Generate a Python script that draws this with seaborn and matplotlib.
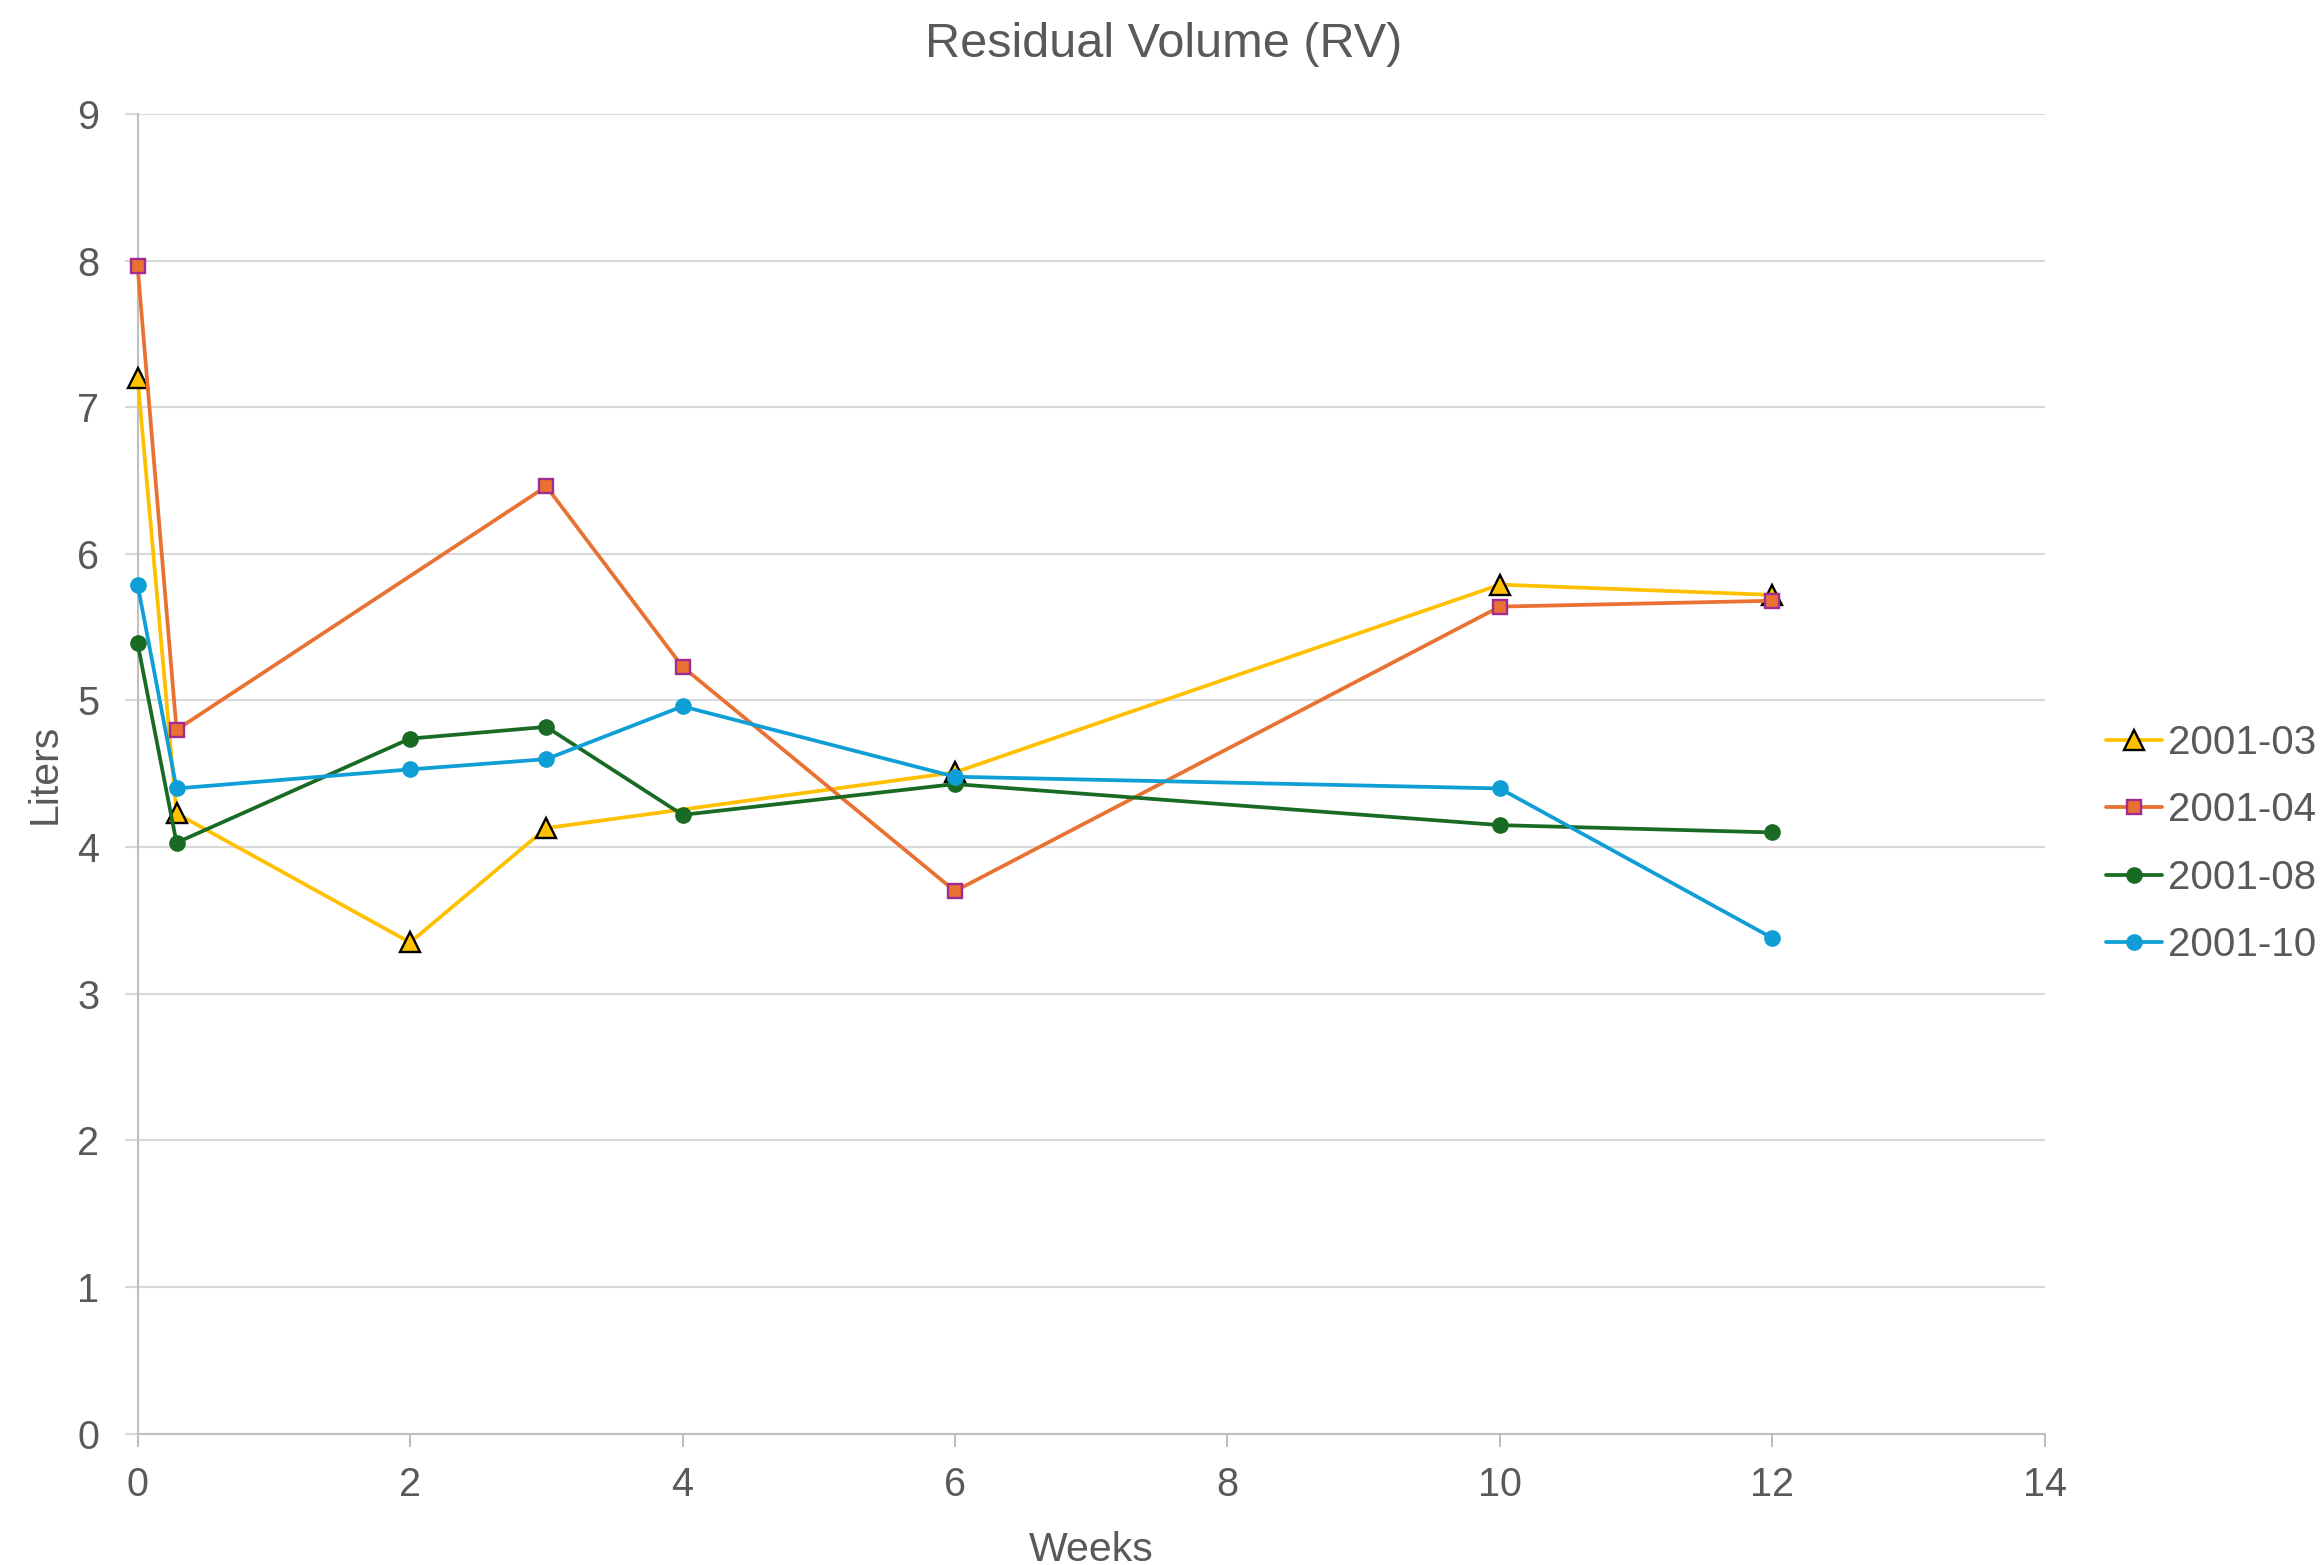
import matplotlib
matplotlib.use("Agg")
import matplotlib.pyplot as plt
import seaborn as sns
import pandas as pd

# Measurement weeks (second visit was 2 days after baseline)
weeks = [0, 2 / 7, 2, 3, 4, 6, 10, 12]

# Residual volume in liters per patient; None where no measurement was taken
rv_2001_03 = [7.20, 4.23, 3.35, 4.13, None, 4.51, 5.79, 5.72]
rv_2001_04 = [7.96, 4.80, None, 6.46, 5.23, 3.70, 5.64, 5.68]
rv_2001_08 = [5.39, 4.03, 4.74, 4.82, 4.22, 4.43, 4.15, 4.10]
rv_2001_10 = [5.79, 4.40, 4.53, 4.60, 4.96, 4.48, 4.40, 3.38]

series_names = ["2001-03", "2001-04", "2001-08", "2001-10"]
series_values = [rv_2001_03, rv_2001_04, rv_2001_08, rv_2001_10]

x_ticks = [0, 2, 4, 6, 8, 10, 12, 14]
y_ticks = [0, 1, 2, 3, 4, 5, 6, 7, 8, 9]

rows = []
for name, vals in zip(series_names, series_values):
    for w, v in zip(weeks, vals):
        if v is not None:
            rows.append({"Weeks": w, "Liters": v, "Patient": name})
df = pd.DataFrame(rows)

styles = {
    "2001-03": dict(color="#FFC000", marker="^", ms=14.5, mfc="#FFC000", mec="black", mew=1.7),
    "2001-04": dict(color="#E97132", marker="s", ms=10.5, mfc="#E97132", mec="#A02B93", mew=1.7),
    "2001-08": dict(color="#196B24", marker="o", ms=12, mfc="#196B24", mec="#196B24", mew=0),
    "2001-10": dict(color="#0F9ED5", marker="o", ms=12, mfc="#0F9ED5", mec="#0F9ED5", mew=0),
}

sns.set_theme(style="white")
plt.rcParams["font.family"] = ["Liberation Sans", "DejaVu Sans"]
text_color = "#595959"

W, H = 2320, 1565
fig = plt.figure(figsize=(W / 100, H / 100), dpi=100)
left, right, top, bottom = 137.6, 2044.8, 113.9, 1433.7
ax = fig.add_axes([left / W, (H - bottom) / H, (right - left) / W, (bottom - top) / H])

for name in series_names:
    st = styles[name]
    sub = df[df["Patient"] == name]
    sns.lineplot(data=sub, x="Weeks", y="Liters", ax=ax, label=name,
                 color=st["color"], lw=2.7, marker=st["marker"],
                 markersize=st["ms"], markerfacecolor=st["mfc"],
                 markeredgecolor=st["mec"], markeredgewidth=st["mew"],
                 sort=True, estimator=None, clip_on=False, zorder=3)

ax.set_xlim(0, 14)
ax.set_ylim(0, 9)
ax.set_xticks(x_ticks)
ax.set_yticks(y_ticks)
ax.grid(axis="y", color="#D9D9D9", lw=1.5, zorder=0)
ax.grid(axis="x", visible=False)
for s in ["top", "right"]:
    ax.spines[s].set_visible(False)
for s in ["left", "bottom"]:
    ax.spines[s].set_color("#BFBFBF")
    ax.spines[s].set_linewidth(1.5)

ax.tick_params(axis="y", length=9.5, width=1.5, color="#D9D9D9", pad=18,
               labelsize=28.5, labelcolor=text_color, left=True)
ax.tick_params(axis="x", length=9.5, width=1.5, color="#BFBFBF", pad=14,
               labelsize=28.5, labelcolor=text_color, bottom=True)

ax.set_xlabel("Weeks", fontsize=29.5, color=text_color, va="baseline")
ax.xaxis.set_label_coords(0.5, -(1561 - bottom) / (bottom - top))
ax.set_ylabel("Liters", fontsize=29.5, color=text_color, va="center")
ax.yaxis.set_label_coords(-(left - 45) / (right - left), 0.5)

fig.text(1164 / W, (H - 57) / H, "Residual Volume (RV)", ha="center",
         va="baseline", fontsize=35, color=text_color)

handles, labels = ax.get_legend_handles_labels()
leg = ax.legend(handles, labels, loc="center left",
                bbox_to_anchor=(2106 / W, (H - 844) / H),
                bbox_transform=fig.transFigure, frameon=False,
                fontsize=29, handlelength=1.4, handletextpad=0.15,
                labelspacing=0.73, borderpad=0, borderaxespad=0)
for t in leg.get_texts():
    t.set_color(text_color)

fig.savefig("out.png", dpi=100, facecolor="white")
